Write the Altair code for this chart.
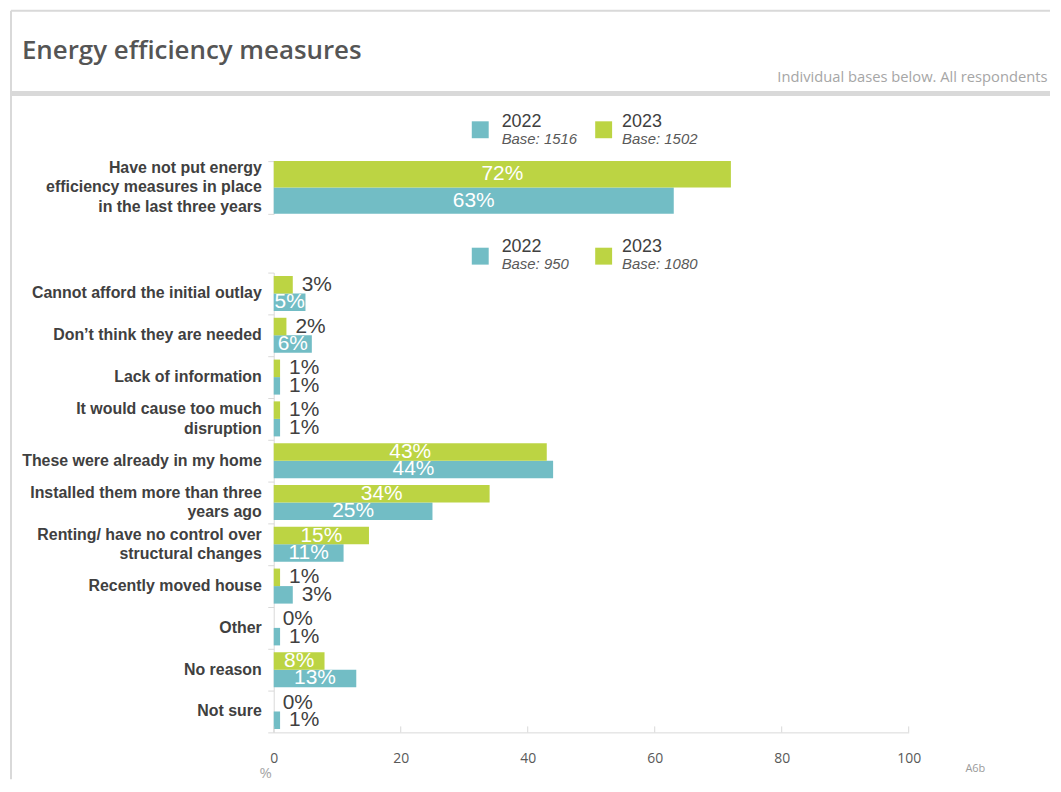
import altair as alt
import pandas as pd

# ---------------- data ----------------
years = ["2022", "2023"]
year_colors = ["#72BDC5", "#BCD443"]

top_categories = ["Have not put energy|efficiency measures in place|in the last three years"]
top_values_2022 = [63]
top_values_2023 = [72]
top_bases = ["Base: 1516", "Base: 1502"]

bottom_categories = [
    "Cannot afford the initial outlay",
    "Don’t think they are needed",
    "Lack of information",
    "It would cause too much|disruption",
    "These were already in my home",
    "Installed them more than three|years ago",
    "Renting/ have no control over|structural changes",
    "Recently moved house",
    "Other",
    "No reason",
    "Not sure",
]
bottom_values_2022 = [5, 6, 1, 1, 44, 25, 11, 3, 1, 13, 1]
bottom_values_2023 = [3, 2, 1, 1, 43, 34, 15, 1, 0, 8, 0]
bottom_bases = ["Base: 950", "Base: 1080"]

x_ticks = [0, 20, 40, 60, 80, 100]

title_text = "Energy efficiency measures"
subtitle_text = "Individual bases below. All respondents"
axis_unit = "%"
slide_code = "A6b"

# ---------------- styles ----------------
CAT_FONT = "Liberation Sans Narrow, Liberation Sans, sans-serif"
VAL_FONT = "Liberation Sans Narrow, Liberation Sans, sans-serif"
LEG_FONT = "Liberation Sans, Arial, sans-serif"
GRID_GRAY = "#d9d9d9"
PLOT_W = 638
LINE_H = 19.5


def long_df(cats, v22, v23):
    rows = []
    for c, a, b in zip(cats, v22, v23):
        rows.append({"category": c, "year": "2022", "value": a})
        rows.append({"category": c, "year": "2023", "value": b})
    return pd.DataFrame(rows)


def text_layer(text, x, y, **kw):
    return alt.Chart(pd.DataFrame({"t": [text]})).mark_text(**kw).encode(
        text="t:N", x=alt.value(x), y=alt.value(y)
    )


def rule_layer(x, y, x2=None, y2=None, **kw):
    enc = {"x": alt.value(x), "y": alt.value(y)}
    if x2 is not None:
        enc["x2"] = alt.value(x2)
    if y2 is not None:
        enc["y2"] = alt.value(y2)
    return alt.Chart(pd.DataFrame({"d": [0]})).mark_rule(**kw).encode(**enc)


def legend_layers(bases, rect_top, year_y, base_y):
    rect_x = [199, 323]
    text_x = [229, 350]
    layers = []
    for i, yr in enumerate(years):
        layers.append(
            alt.Chart(pd.DataFrame({"year": [yr]}))
            .mark_rect(color=year_colors[i])
            .encode(
                x=alt.value(rect_x[i]), x2=alt.value(rect_x[i] + 17),
                y=alt.value(rect_top), y2=alt.value(rect_top + 17),
            )
        )
        layers.append(text_layer(yr, text_x[i], year_y, align="left", baseline="alphabetic",
                                 font=LEG_FONT, fontSize=18, color="#404040"))
        layers.append(text_layer(bases[i], text_x[i], base_y, align="left", baseline="alphabetic",
                                 font=LEG_FONT, fontSize=15, fontStyle="italic", color="#595959"))
    return layers


def bar_panel(df, cats, height, off_pad, show_x_axis):
    x_scale = alt.Scale(domain=[0, 100], nice=False, zero=True)
    if show_x_axis:
        x_axis = alt.Axis(values=x_ticks, title=None, grid=False, ticks=False, tickSize=0,
                          labelPadding=19, labelFlush=False, domainColor=GRID_GRAY,
                          labelColor="#595959", labelFont="Open Sans", labelFontSize=14)
    else:
        x_axis = None
    y_axis = alt.Axis(title=None, labels=False, domainColor=GRID_GRAY, tickColor=GRID_GRAY,
                      tickSize=6, tickBand="extent")
    y_scale = alt.Scale(paddingInner=0, paddingOuter=0)
    y_enc = alt.Y("category:N", sort=cats, scale=y_scale, axis=y_axis)
    yoff = alt.YOffset("year:N", sort=["2023", "2022"],
                       scale=alt.Scale(domain=["2023", "2022"], paddingInner=0, paddingOuter=off_pad))
    base = alt.Chart(df).transform_calculate(label="datum.value + '%'", mid="datum.value / 2")
    bars = base.mark_bar().encode(
        x=alt.X("value:Q", scale=x_scale, axis=x_axis),
        y=y_enc, yOffset=yoff,
        color=alt.Color("year:N", scale=alt.Scale(domain=years, range=year_colors), legend=None),
    )
    inside = base.transform_filter("datum.value >= 5").mark_text(
        color="white", font=VAL_FONT, fontSize=21, align="center", baseline="middle"
    ).encode(x=alt.X("mid:Q", scale=x_scale, axis=x_axis), y=y_enc, yOffset=yoff, text="label:N")
    outside = base.transform_filter("datum.value < 5").mark_text(
        color="#404040", font=VAL_FONT, fontSize=21, align="left", baseline="middle", dx=9
    ).encode(x=alt.X("value:Q", scale=x_scale, axis=x_axis), y=y_enc, yOffset=yoff, text="label:N")
    layers = [bars, inside, outside]

    # category labels (multi-line, vertically centred on the band)
    lab_df = pd.DataFrame({"category": cats})
    lab_df["n"] = [c.count("|") + 1 for c in cats]
    for n in sorted(lab_df["n"].unique()):
        sub = lab_df[lab_df["n"] == n]
        layers.append(
            alt.Chart(sub).mark_text(
                align="right", baseline="middle", lineBreak="|", lineHeight=LINE_H,
                font=CAT_FONT, fontWeight="bold", fontSize=16, color="#404040",
                dy=-(n - 1) * LINE_H / 2,
            ).encode(x=alt.value(-12), y=y_enc, text="category:N")
        )

    if show_x_axis:
        ticks = alt.Chart(pd.DataFrame({"tick": x_ticks})).mark_rule(color=GRID_GRAY).encode(
            x=alt.X("tick:Q", scale=x_scale, axis=x_axis),
            y=alt.value(height - 6), y2=alt.value(height),
        )
        layers.append(ticks)
    return layers


top_df = long_df(top_categories, top_values_2022, top_values_2023)
bottom_df = long_df(bottom_categories, bottom_values_2022, bottom_values_2023)

# ---- top panel (plot origin at page 273,160) with slide decorations ----
top_layers = bar_panel(top_df, top_categories, 53, 0, False)
deco = [
    rule_layer(-264, -151, x2=780, color=GRID_GRAY, strokeWidth=2),
    rule_layer(-264, -151, y2=621, color=GRID_GRAY, strokeWidth=2),
    rule_layer(-264, -68, x2=780, color=GRID_GRAY, strokeWidth=5),
    text_layer(title_text, -253, -103, align="left", baseline="alphabetic",
               font="Open Sans", fontWeight=600, fontSize=26, color="#555555"),
    text_layer(subtitle_text, 506, -79, align="left", baseline="alphabetic",
               font="Open Sans", fontSize=14.8, color="#a6a6a6",
               limit=274, ellipsis=" "),
]
top_panel = alt.layer(*deco, *legend_layers(top_bases, -40, -34, -17), *top_layers).properties(
    width=PLOT_W, height=53
)

# ---- bottom panel (plot origin at page 273,272) ----
bottom_layers = bar_panel(bottom_df, bottom_categories, 462, 0.193, True)
extras = [
    text_layer(axis_unit, -8, 508, align="center", baseline="alphabetic",
               font="Open Sans", fontSize=15, color="#a6a6a6"),
    text_layer(slide_code, 695, 502, align="left", baseline="alphabetic",
               font="Open Sans", fontSize=11, color="#9a9a9a"),
]
bottom_panel = alt.layer(
    *legend_layers(bottom_bases, -25, -21, -4), *bottom_layers, *extras
).properties(width=PLOT_W, height=462)

chart = (
    alt.vconcat(top_panel, bottom_panel, spacing=59, bounds="flush")
    .resolve_scale(y="independent", yOffset="independent")
    .properties(padding=0, background="white")
    .configure_view(stroke=None)
)

chart.save("out.html", embed_options={"renderer": "svg", "actions": False})
